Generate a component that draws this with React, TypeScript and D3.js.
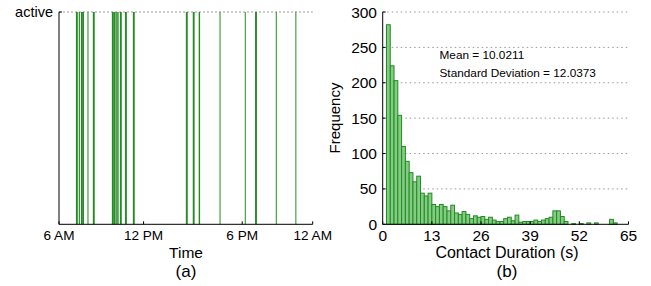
import React from "react";
import * as d3 from "d3";

// Panel (a): activity events (hour of day) and their durations (minutes)
const eventHours = [7.2, 7.4, 7.56, 7.7, 8.02, 8.4, 9.75, 9.87, 10.0, 10.13, 10.32, 10.68, 11.24, 15.0, 15.49, 15.91, 17.39, 19.18, 19.91, 21.38, 22.77];
const eventMinutes = [8, 5, 8, 4, 4, 8, 8, 6, 6, 6, 8, 8, 8, 8, 8, 6, 4, 4, 8, 4, 4];
const timeTickHours = [6, 12, 19, 24];
const timeTickLabels = ["6 AM", "12 PM", "6 PM", "12 AM"];

// Panel (b): histogram of contact durations, 1 s bins starting at 1 s
const binStarts = d3.range(1, 63);
const binCounts = [282, 224, 203, 154, 110, 89, 73, 60, 68, 44, 40, 44, 28, 25, 28, 25, 19, 27, 16, 14, 18, 14, 8, 12, 10, 11, 7, 10, 6, 4, 4, 8, 10, 5, 13, 3, 4, 4, 4, 6, 4, 6, 8, 10, 19, 19, 11, 4, 0, 1, 0, 1, 0, 2, 0, 2, 0, 0, 0, 7, 2, 0];
const durTicks = [0, 13, 26, 39, 52, 65];
const freqTicks = [0, 50, 100, 150, 200, 250, 300];
const meanText = "Mean = 10.0211";
const sdText = "Standard Deviation = 12.0373";

const FONT = "'Liberation Sans', Arial, Helvetica, sans-serif";
const GREEN = "#228b22";

export default function App() {
  // Panel (a)
  const xa = d3.scaleLinear().domain([6, 24]).range([59, 312.7]);
  const top = 12;
  const bottom = 224.3;

  // Panel (b)
  const xb = d3.scaleLinear().domain([0, 65]).range([382.7, 628.5]);
  const yb = d3.scaleLinear().domain([0, 300]).range([bottom, top]);

  return (
    <svg width={651} height={286} style={{ position: "absolute", left: 0, top: 0, background: "#fff" }} fontFamily={FONT}>
      {/* ---------- Panel (a) ---------- */}
      <line x1={xa(6)} x2={xa(24)} y1={top} y2={top} stroke="#999" strokeDasharray="2,2" strokeWidth={1} />
      {eventHours.map((h, i) => {
        const x0 = xa(h);
        const w = Math.max(1, xa(h + eventMinutes[i] / 60) - x0);
        return <rect key={i} x={x0} y={top} width={w} height={bottom - top} fill={GREEN} />;
      })}
      <line x1={xa(6)} x2={xa(6)} y1={top} y2={bottom} stroke="#000" strokeWidth={1} />
      <line x1={xa(6)} x2={xa(24)} y1={bottom} y2={bottom} stroke="#000" strokeWidth={1} />
      <line x1={xa(6)} x2={xa(6) + 3} y1={top} y2={top} stroke="#000" strokeWidth={1} />
      {timeTickHours.map((h, i) => (
        <g key={i}>
          <line x1={xa(h)} x2={xa(h)} y1={bottom} y2={bottom - 3} stroke="#000" strokeWidth={1} />
          <text x={xa(h)} y={240} textAnchor="middle" fontSize={13.6}>{timeTickLabels[i]}</text>
        </g>
      ))}
      <text x={53} y={17} textAnchor="end" fontSize={14.5}>active</text>
      <text x={186} y={257.5} textAnchor="middle" fontSize={15.5}>Time</text>
      <text x={186} y={277} textAnchor="middle" fontSize={17}>(a)</text>

      {/* ---------- Panel (b) ---------- */}
      {freqTicks.filter((v) => v > 0).map((v) => (
        <line key={v} x1={xb(0)} x2={xb(65)} y1={yb(v)} y2={yb(v)} stroke="#999" strokeDasharray="1.5,3" strokeWidth={1} />
      ))}
      {binStarts.map((b, i) => (
        <rect
          key={b}
          x={xb(b)}
          y={yb(binCounts[i])}
          width={xb(b + 1) - xb(b)}
          height={yb(0) - yb(binCounts[i])}
          fill="#84cb84"
          stroke={GREEN}
          strokeWidth={1}
        />
      ))}
      <line x1={xb(0)} x2={xb(0)} y1={top} y2={bottom} stroke="#000" strokeWidth={1} />
      <line x1={xb(0)} x2={xb(65)} y1={bottom} y2={bottom} stroke="#000" strokeWidth={1} />
      {freqTicks.map((v) => (
        <g key={v}>
          <line x1={xb(0)} x2={xb(0) + 3} y1={yb(v)} y2={yb(v)} stroke="#000" strokeWidth={1} />
          <text x={377} y={yb(v) + 5.5} textAnchor="end" fontSize={15.5}>{v}</text>
        </g>
      ))}
      {durTicks.map((v) => (
        <g key={v}>
          <line x1={xb(v)} x2={xb(v)} y1={bottom} y2={bottom - 3} stroke="#000" strokeWidth={1} />
          <text x={xb(v)} y={241} textAnchor="middle" fontSize={15.5}>{v}</text>
        </g>
      ))}
      <text transform="translate(340,118) rotate(-90)" textAnchor="middle" fontSize={15}>Frequency</text>
      <text x={507} y={257.5} textAnchor="middle" fontSize={16}>Contact Duration (s)</text>
      <text x={507} y={277} textAnchor="middle" fontSize={17}>(b)</text>
      <text x={439.5} y={59} fontSize={11.8}>{meanText}</text>
      <text x={439.5} y={77} fontSize={11.8}>{sdText}</text>
    </svg>
  );
}
